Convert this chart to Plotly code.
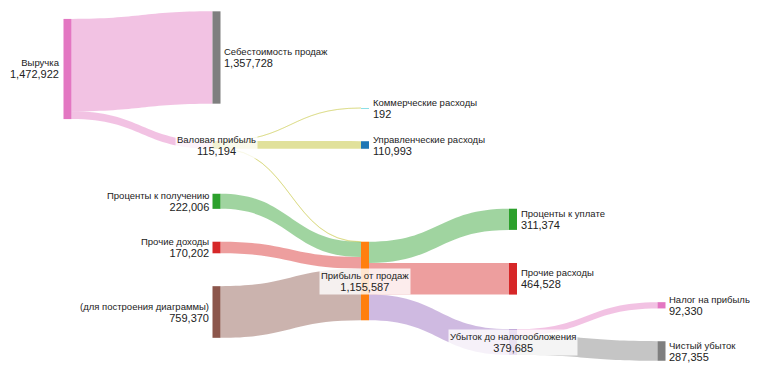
import plotly.graph_objects as go

# ---- data ----
node_labels = [
    "Выручка", "Себестоимость продаж", "Валовая прибыль", "Коммерческие расходы",
    "Управленческие расходы", "Проценты к получению", "Прочие доходы",
    "(для построения диаграммы)", "Прибыль от продаж", "Проценты к уплате",
    "Прочие расходы", "Убыток до налогообложения", "Налог на прибыль", "Чистый убыток",
]
link_source = [0, 0, 2, 2, 2, 5, 6, 7, 8, 8, 8, 11, 11]
link_target = [1, 2, 3, 4, 8, 8, 8, 8, 9, 10, 11, 12, 13]
link_values = [1357728, 115194, 192, 110993, 4009, 222006, 170202, 759370,
               311374, 464528, 379685, 92330, 287355]

# ---- layout / style ----
OFF = 8                      # page body margin
W, H = 758 - OFF, 379 - OFF
# node centres in window pixels
node_cx = [67.5, 216.5, 216.5, 365, 365, 216.5, 216.5, 216.5,
           365, 513, 513, 513, 661.5, 661.5]
node_cy = [69, 57.5, 145, 108, 145, 201.3, 247.5, 312,
           281, 219.3, 278.8, 342, 305.3, 351]
node_x = [(v - OFF) / W for v in node_cx]
node_y = [(v - OFF) / H for v in node_cy]

node_colors = ["#e377c2", "#7f7f7f", "#bcbd22", "#17becf", "#1f77b4", "#2ca02c",
               "#d62728", "#8c564b", "#ff7f0e", "#2ca02c", "#d62728", "#9467bd",
               "#e377c2", "#7f7f7f"]
A = 0.45
link_colors = [
    f"rgba(227,119,194,{A})", f"rgba(227,119,194,{A})",
    "rgba(188,189,34,0.3)", f"rgba(188,189,34,{A})", "rgba(188,189,34,0.3)",
    f"rgba(44,160,44,{A})", f"rgba(214,39,40,{A})", f"rgba(140,86,75,{A})",
    f"rgba(44,160,44,{A})", f"rgba(214,39,40,{A})", f"rgba(148,103,189,{A})",
    f"rgba(227,119,194,{A})", f"rgba(127,127,127,{A})",
]

THICK = 8
KY = 6.8e-5
total_col = 2624500
pad = (H - KY * total_col) / 6

fig = go.Figure(go.Sankey(
    arrangement="fixed",
    node=dict(
        label=["" for _ in node_labels],
        customdata=node_labels,
        x=node_x, y=node_y,
        color=node_colors,
        pad=pad, thickness=THICK,
        line=dict(width=0),
        hovertemplate="%{customdata}: %{value:,}<extra></extra>",
    ),
    link=dict(
        source=link_source, target=link_target, value=link_values,
        color=link_colors,
    ),
))

annotations = []
for i, lab in enumerate(node_labels):
    vin = sum(v for t, v in zip(link_target, link_values) if t == i)
    vout = sum(v for s, v in zip(link_source, link_values) if s == i)
    val = max(vin, vout)
    text = f"{lab}<br><span style='font-size:11px'>{val:,}</span>"
    if vin == 0:
        kw = dict(xanchor="right", align="right", xshift=-(THICK / 2 + 2))
    elif vout == 0:
        kw = dict(xanchor="left", align="left", xshift=THICK / 2 + 1.5)
    else:
        kw = dict(xanchor="center", align="center", bgcolor="rgba(255,255,255,0.8)",
                  borderpad=1)
    annotations.append(dict(
        x=node_x[i], y=1 - node_y[i], xref="paper", yref="paper",
        yanchor="middle", text=text, showarrow=False,
        font=dict(family="Liberation Sans, Arial, sans-serif", size=9.5, color="#222"),
        **kw,
    ))

fig.update_layout(
    width=W, height=H,
    margin=dict(l=0, r=0, t=0, b=0),
    paper_bgcolor="white",
    annotations=annotations,
    font=dict(family="Liberation Sans, Arial, sans-serif"),
)

fig.write_html("out.html")
